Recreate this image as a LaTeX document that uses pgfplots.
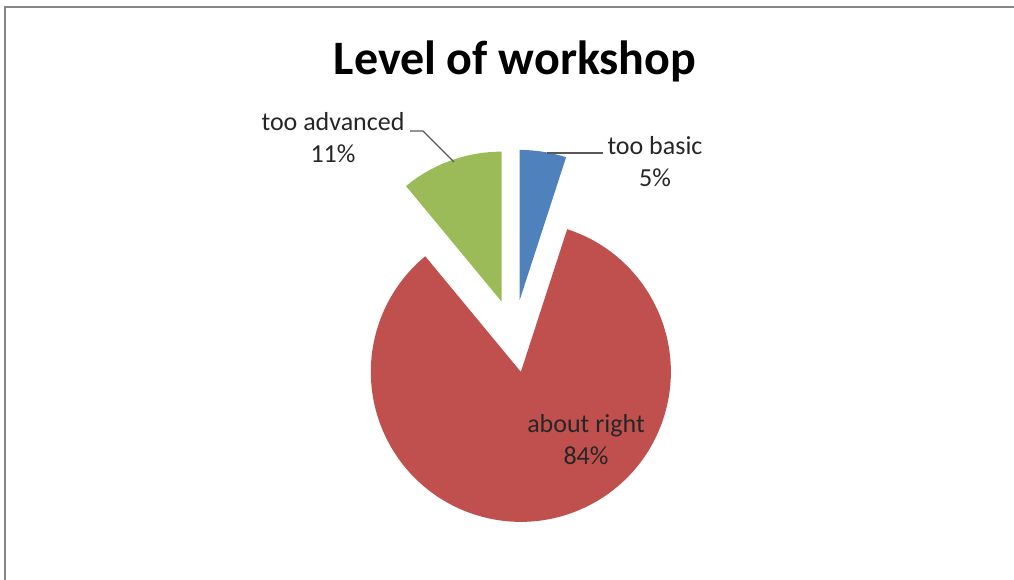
\documentclass[border=0pt]{standalone}
\usepackage{pgfplots}
\usepackage{pgfplotstable}
\pgfplotsset{compat=1.18}
\usepackage{fontspec}
\setmainfont{Carlito}
\definecolor{cblue}{HTML}{4F81BD}
\definecolor{cred}{HTML}{C0504D}
\definecolor{cgreen}{HTML}{9BBB59}
\definecolor{frame}{HTML}{868686}
\definecolor{lead}{HTML}{595959}

\pgfplotstableread{
label pct
basic 5
right 84
advanced 11
}\piedata

\begin{document}
\begin{tikzpicture}[x=1bp,y=1bp]
% slice angles from the percentages (clockwise from 12 o'clock)
\pgfplotstablegetelem{0}{pct}\of\piedata \pgfmathsetmacro\pA{\pgfplotsretval}
\pgfplotstablegetelem{1}{pct}\of\piedata \pgfmathsetmacro\pB{\pgfplotsretval}
\pgfplotstablegetelem{2}{pct}\of\piedata \pgfmathsetmacro\pC{\pgfplotsretval}
\pgfmathsetmacro\sA{90}
\pgfmathsetmacro\eA{\sA-3.6*\pA}
\pgfmathsetmacro\eB{\eA-3.6*\pB}
\pgfmathsetmacro\eC{\eB-3.6*\pC}
% exploded apex of each slice
\def\cx{514}\def\cy{244}\def\dd{36.5}
\pgfmathsetmacro\axA{\cx+\dd*cos((\sA+\eA)/2)}\pgfmathsetmacro\ayA{\cy+\dd*sin((\sA+\eA)/2)}
\pgfmathsetmacro\axB{\cx+\dd*cos((\eA+\eB)/2)}\pgfmathsetmacro\ayB{\cy+\dd*sin((\eA+\eB)/2)}
\pgfmathsetmacro\axC{\cx+\dd*cos((\eB+\eC)/2)}\pgfmathsetmacro\ayC{\cy+\dd*sin((\eB+\eC)/2)}

% chart frame: only its top and left edges fall inside the picture
\draw[frame, line width=2.2bp] (5,0) -- (5,573) -- (1014,573);

\begin{axis}[
    at={(0,0)}, anchor=south west,
    scale only axis, x=1bp, y=1bp,
    xmin=0, xmax=1014, ymin=0, ymax=580,
    hide axis, clip=false
    ]
\fill[cblue] (axis cs:\axA,\ayA) -- ++(\sA:150bp) arc[start angle=\sA, end angle=\eA, radius=150bp] -- cycle;
\fill[cred] (axis cs:\axB,\ayB) -- ++(\eA:150bp) arc[start angle=\eA, end angle=\eB, radius=150bp] -- cycle;
\fill[cgreen] (axis cs:\axC,\ayC) -- ++(\eB:150bp) arc[start angle=\eB, end angle=\eC, radius=150bp] -- cycle;

\draw[lead, line width=1.3bp] (axis cs:547,427) -- (axis cs:603,427);
\draw[lead, line width=1.3bp] (axis cs:410,449) -- (axis cs:423,449) -- (axis cs:454,418);

\node[font=\fontsize{48bp}{58bp}\selectfont\bfseries] at (axis cs:515,519) {Level of workshop};
\node[align=center, text=black!85, font=\fontsize{26bp}{32bp}\selectfont] at (axis cs:655,418) {too basic\\5\%};
\node[align=center, text=black!85, font=\fontsize{26bp}{32bp}\selectfont] at (axis cs:333,442) {too advanced\\11\%};
\node[align=center, text=black!85, font=\fontsize{26bp}{32bp}\selectfont] at (axis cs:586,140) {about right\\84\%};
\end{axis}
\pgfresetboundingbox
\useasboundingbox (0,0) rectangle (1014,580);
\end{tikzpicture}
\end{document}
